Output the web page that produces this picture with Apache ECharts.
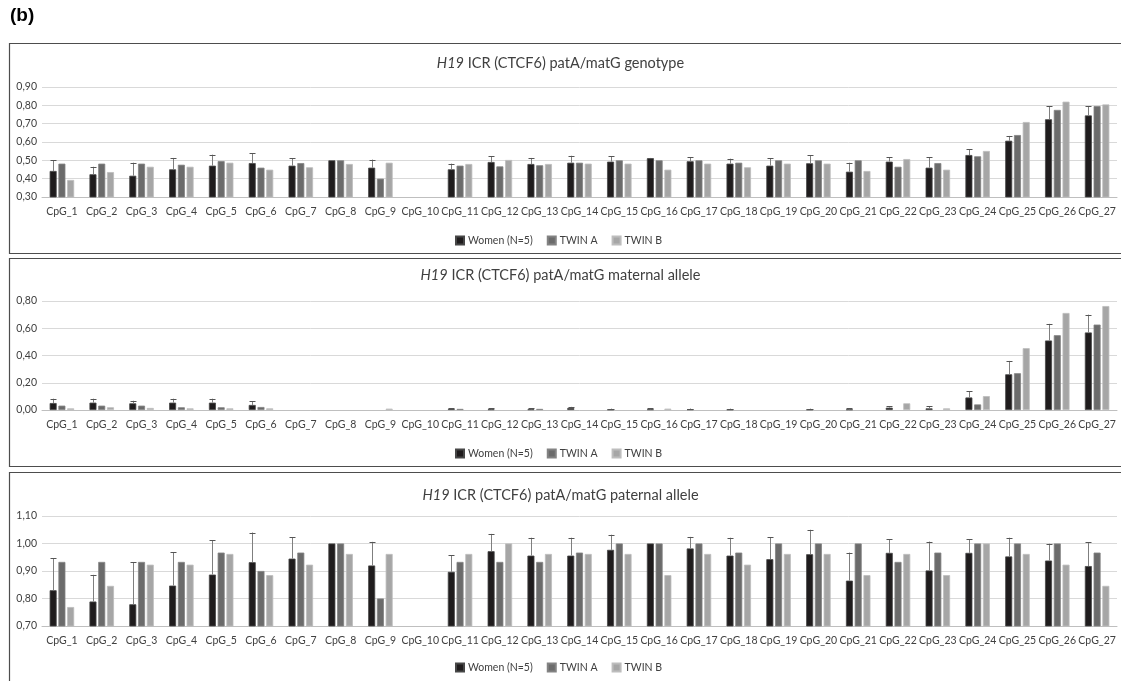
<!DOCTYPE html>
<html>
<head>
<meta charset="utf-8">
<script src="https://cdn.jsdelivr.net/npm/echarts@6/dist/echarts.min.js"></script>
<style>
  html, body { margin: 0; padding: 0; background: #ffffff; }
  #chart { width: 1121px; height: 681px; }
</style>
</head>
<body>
<div id="chart"></div>
<script>
// CpG sites along the H19 ICR (CTCF6) region
const categories = [
  'CpG_1','CpG_2','CpG_3','CpG_4','CpG_5','CpG_6','CpG_7','CpG_8','CpG_9','CpG_10',
  'CpG_11','CpG_12','CpG_13','CpG_14','CpG_15','CpG_16','CpG_17','CpG_18','CpG_19','CpG_20',
  'CpG_21','CpG_22','CpG_23','CpG_24','CpG_25','CpG_26','CpG_27'
];
const seriesNames = ['Women (N=5)', 'TWIN A', 'TWIN B'];

// genotype: methylation level, women mean + SD, twins
const genoWomen   = [0.442,0.424,0.416,0.451,0.471,0.485,0.471,0.500,0.460,null,0.451,0.491,0.480,0.487,0.493,0.511,0.495,0.482,0.471,0.484,0.438,0.493,0.460,0.529,0.607,0.724,0.745];
const genoWomenSd = [0.058,0.041,0.071,0.062,0.060,0.055,0.040,0.000,0.044,null,0.031,0.031,0.033,0.038,0.029,0.002,0.021,0.027,0.040,0.045,0.049,0.023,0.056,0.031,0.026,0.072,0.051];
const genoTwinA   = [0.482,0.482,0.482,0.476,0.496,0.460,0.485,0.500,0.400,null,0.471,0.467,0.473,0.487,0.500,0.500,0.500,0.487,0.500,0.500,0.500,0.465,0.485,0.522,0.638,0.775,0.796];
const genoTwinB   = [0.393,0.436,0.465,0.465,0.487,0.449,0.462,0.480,0.487,null,0.480,0.502,0.480,0.482,0.482,0.449,0.482,0.462,0.482,0.482,0.442,0.507,0.449,0.551,0.709,0.820,0.805];

// maternal allele
const matWomen   = [0.051,0.054,0.049,0.054,0.054,0.037,0,0,0,null,0.008,0.005,0.005,0.015,0.004,0.005,0.005,0.004,0,0.004,0.004,0.017,0.012,0.092,0.262,0.510,0.569];
const matWomenSd = [0.032,0.029,0.019,0.029,0.029,0.029,0,0,0,null,0.005,0.008,0.008,0.008,0.006,0.007,0.006,0.006,0,0.006,0.008,0.012,0.017,0.044,0.098,0.122,0.131];
const matTwinA   = [0.032,0.032,0.032,0.020,0.020,0.022,0,0,0,null,0.008,0,0.008,0,0,0,0,0,0,0,0,0,0,0.041,0.270,0.549,0.627];
const matTwinB   = [0.012,0.020,0.015,0.012,0.012,0.012,0,0,0.010,null,0,0,0,0,0,0.010,0,0,0,0,0,0.049,0.012,0.102,0.454,0.712,0.763];

// paternal allele
const patWomen   = [0.830,0.789,0.779,0.847,0.887,0.932,0.945,1.000,0.920,null,0.897,0.972,0.956,0.956,0.977,1.000,0.982,0.956,0.943,0.961,0.865,0.966,0.902,0.966,0.953,0.938,0.918];
const patWomenSd = [0.117,0.097,0.153,0.121,0.124,0.108,0.077,0.000,0.086,null,0.061,0.063,0.065,0.065,0.055,0.000,0.042,0.065,0.080,0.089,0.102,0.049,0.105,0.049,0.068,0.061,0.086];
const patTwinA   = [0.933,0.933,0.933,0.933,0.967,0.900,0.967,1.000,0.800,null,0.933,0.933,0.933,0.967,1.000,1.000,1.000,0.967,1.000,1.000,1.000,0.933,0.967,1.000,1.000,1.000,0.967];
const patTwinB   = [0.769,0.846,0.923,0.923,0.962,0.885,0.923,0.962,0.962,null,0.962,1.000,0.962,0.962,0.962,0.885,0.962,0.923,0.962,0.962,0.885,0.962,0.885,1.000,0.962,0.923,0.846];

const panelTitles = ['patA/matG genotype', 'patA/matG maternal allele', 'patA/matG paternal allele'];
const yTicks = [
  { min: 0.3, max: 0.9, interval: 0.1 },
  { min: 0.0, max: 0.8, interval: 0.2 },
  { min: 0.7, max: 1.1, interval: 0.1 }
];

const panels = [
  { women: genoWomen, sd: genoWomenSd, a: genoTwinA, b: genoTwinB },
  { women: matWomen,  sd: matWomenSd,  a: matTwinA,  b: matTwinB  },
  { women: patWomen,  sd: patWomenSd,  a: patTwinA,  b: patTwinB  }
];

const FONT = 'Lato, "Open Sans", sans-serif';
const colors = ['#1f1c1d', '#6b6b6b', '#a6a6a6'];
const borders = ['#474747', '#838383', '#bdbdbd'];
const BAR_W = 7;
const BAR_GAP = '25%';

// layout of the three stacked panels
const layout = [
  { box: [9.5, 43.5, 210], gridTop: 87,  gridH: 110, titleY: 51,  legendY: 230 },
  { box: [9.5, 258.5, 208], gridTop: 301, gridH: 109, titleY: 263, legendY: 443 },
  { box: [9.5, 472.5, 220], gridTop: 516, gridH: 110, titleY: 483, legendY: 657 }
];

const grids = [], xAxes = [], yAxes = [], series = [], titles = [], legends = [], graphics = [];

layout.forEach((L, p) => {
  grids.push({ left: 42, right: 4, top: L.gridTop, height: L.gridH });
  xAxes.push({
    type: 'category', gridIndex: p, data: categories,
    axisLine: { show: true, lineStyle: { color: '#bfbfbf', width: 1 } },
    axisTick: { show: false },
    axisLabel: { interval: 0, color: '#404040', fontFamily: FONT, fontSize: 10.5, margin: 9 }
  });
  yAxes.push({
    type: 'value', gridIndex: p,
    min: yTicks[p].min, max: yTicks[p].max, interval: yTicks[p].interval,
    axisLine: { show: false }, axisTick: { show: false },
    splitLine: { lineStyle: { color: '#d9d9d9', width: 1 } },
    axisLabel: {
      color: '#404040', fontFamily: FONT, fontSize: 10.5, margin: 5,
      formatter: v => v.toFixed(2).replace('.', ',')
    }
  });

  const d = panels[p];
  [d.women, d.a, d.b].forEach((vals, s) => {
    series.push({
      name: seriesNames[s], type: 'bar', xAxisIndex: p, yAxisIndex: p,
      // a zero level draws no bar at all
      data: vals.map(v => (v === 0 ? null : v)),
      barWidth: BAR_W, barGap: BAR_GAP,
      itemStyle: { color: colors[s], borderColor: borders[s], borderWidth: 0.8 },
      emphasis: { disabled: true },
      animation: false
    });
  });

  // upper SD whiskers on the women's bars
  series.push({
    type: 'custom', xAxisIndex: p, yAxisIndex: p, silent: true, animation: false, z: 5,
    data: categories.map((c, i) => [i, d.women[i], d.sd[i]]).filter(r => r[1] != null && r[2] > 0),
    renderItem: (params, api) => {
      const idx = api.value(0), mean = api.value(1), sd = api.value(2);
      const bl = api.barLayout({ barWidth: BAR_W, barGap: BAR_GAP, count: 3 });
      const base = api.coord([idx, mean]);
      const top = api.coord([idx, mean + sd]);
      const x = Math.round(base[0] + bl[0].offsetCenter) + 0.5;
      const capY = Math.round(top[1]) + 0.5;
      return {
        type: 'group',
        children: [
          { type: 'line', shape: { x1: x, y1: base[1], x2: x, y2: top[1] }, style: { stroke: '#7f7f7f', lineWidth: 1 } },
          { type: 'line', shape: { x1: x - 3, y1: capY, x2: x + 3, y2: capY }, style: { stroke: '#555555', lineWidth: 1 } }
        ]
      };
    }
  });

  titles.push({
    text: '{i|H19} ICR (CTCF6) ' + panelTitles[p],
    left: 'center', top: L.titleY,
    textStyle: {
      fontFamily: FONT, fontSize: 14.5, fontWeight: 'normal', color: '#404040',
      rich: { i: { fontFamily: FONT, fontSize: 14.5, fontStyle: 'italic', color: '#404040' } }
    }
  });

  legends.push({
    data: seriesNames, left: 450, top: L.legendY,
    itemWidth: 8, itemHeight: 8, itemGap: 14, icon: 'rect',
    textStyle: { fontFamily: FONT, fontSize: 10.5, color: '#404040', padding: [0, 0, 0, -1] },
    selectedMode: false
  });

  graphics.push({
    type: 'rect', silent: true, z: 100,
    shape: { x: L.box[0], y: L.box[1], width: 1140, height: L.box[2] },
    style: { fill: 'none', stroke: '#4d4d4d', lineWidth: 1.2 }
  });
});

graphics.push({
  type: 'text', left: 10, top: 6, silent: true,
  style: { text: '(b)', font: 'bold 19px "Liberation Sans", Arial, sans-serif', fill: '#000000' }
});

const chart = echarts.init(document.getElementById('chart'), null, { renderer: 'canvas' });
chart.setOption({
  backgroundColor: '#ffffff',
  animation: false,
  title: titles,
  legend: legends,
  grid: grids,
  xAxis: xAxes,
  yAxis: yAxes,
  series: series,
  graphic: graphics
});
</script>
</body>
</html>
